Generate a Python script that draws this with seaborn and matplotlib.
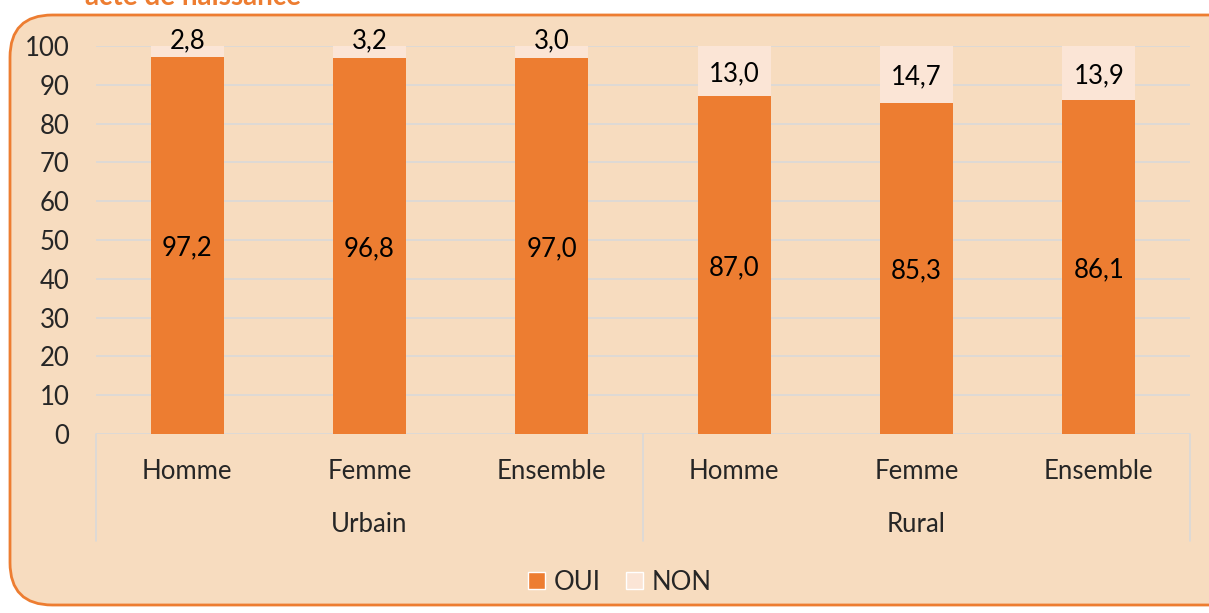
import matplotlib
matplotlib.use("Agg")
import matplotlib.pyplot as plt
from matplotlib.patches import FancyBboxPatch, Patch
import matplotlib.transforms as mtransforms
import seaborn as sns
import pandas as pd

# Data
milieux = ["Urbain", "Urbain", "Urbain", "Rural", "Rural", "Rural"]
sexes = ["Homme", "Femme", "Ensemble", "Homme", "Femme", "Ensemble"]
oui = [97.2, 96.8, 97.0, 87.0, 85.3, 86.1]
non = [2.8, 3.2, 3.0, 13.0, 14.7, 13.9]
groupes = ["Urbain", "Rural"]
yticks = list(range(0, 101, 10))

OUI_COLOR = "#ED7D31"
NON_COLOR = "#FBE5D6"
BG = "#F7DCBF"
GRID = "#D9D9D9"
FS = 18.5

sns.set_theme(style="white")
plt.rcParams["font.family"] = ["Lato", "DejaVu Sans"]

df = pd.DataFrame({
    "milieu": milieux,
    "sexe": sexes,
    "oui": oui,
    "non": non,
})
df["cle"] = df["milieu"] + "-" + df["sexe"]
df["total"] = df["oui"] + df["non"]

W, H = 1209, 613
fig = plt.figure(figsize=(W / 100, H / 100), dpi=100)
fig.patch.set_facecolor("white")

# Rounded panel behind the chart
panel = FancyBboxPatch((10 / W, 8 / H), 1.2, (H - 23) / H,
                       boxstyle="round,pad=0,rounding_size=0.035",
                       transform=fig.transFigure, facecolor=BG,
                       edgecolor=OUI_COLOR, linewidth=2, zorder=-5,
                       mutation_aspect=W / H)
fig.patches.append(panel)

fig.text(85 / W, 1 - 5 / H, "acte de naissance", color=OUI_COLOR,
         fontsize=20, fontweight="bold", va="baseline", ha="left")

ax = fig.add_axes([96 / W, 1 - 434 / H, (1190 - 96) / W, (434 - 46) / H])
ax.set_facecolor("none")
ax.set_zorder(2)

sns.barplot(data=df, x="cle", y="total", color=NON_COLOR, saturation=1,
            width=0.4, ax=ax, zorder=2, linewidth=0)
sns.barplot(data=df, x="cle", y="oui", color=OUI_COLOR, saturation=1,
            width=0.4, ax=ax, zorder=3, linewidth=0)

ax.set_xlim(-0.5, len(df) - 0.5)
ax.set_ylim(0, 100)
ax.set_yticks(yticks)
ax.set_yticklabels([str(t) for t in yticks], fontsize=FS)
ax.yaxis.grid(True, color=GRID, linewidth=1.2, zorder=0)
ax.set_axisbelow(True)
for s in ax.spines.values():
    s.set_visible(False)
ax.tick_params(axis="y", length=0, pad=19)
ax.tick_params(axis="x", length=0, pad=18)
ax.set_xticks(range(len(df)))
ax.set_xticklabels(sexes, fontsize=FS)
ax.set_xlabel("")
ax.set_ylabel("")

# Value labels centred in each segment (thin segments get their label lifted)
for i, (o, n) in enumerate(zip(oui, non)):
    ax.annotate(f"{o:.1f}".replace(".", ","), (i, o / 2), xytext=(0, -2),
                textcoords="offset points", ha="center", va="center",
                fontsize=FS, color="black", zorder=4)
    if n < 5:
        pos, dy = o + n, 4
    else:
        pos, dy = o + n / 2, -2
    ax.annotate(f"{n:.1f}".replace(".", ","), (i, pos), xytext=(0, dy),
                textcoords="offset points", ha="center", va="center",
                fontsize=FS, color="black", zorder=4)

# Group labels and separators
trans = mtransforms.blended_transform_factory(ax.transData, ax.transAxes)
sep_bottom = (434 - 541) / (434 - 46)
for x in [-0.5, 2.5, 5.5]:
    ax.plot([x, x], [0, sep_bottom], transform=trans, color=GRID,
            linewidth=1.2, clip_on=False)
for k, g in enumerate(groupes):
    ax.text(1 + 3 * k, (434 - 525) / (434 - 46), g, transform=trans,
            ha="center", va="center", fontsize=FS, clip_on=False)

handles = [Patch(facecolor=OUI_COLOR, label="OUI"),
           Patch(facecolor=NON_COLOR, label="NON")]
fig.legend(handles=handles, loc="center", bbox_to_anchor=(620 / W, 1 - 582 / H),
           ncol=2, frameon=False, fontsize=FS, handlelength=0.65,
           handleheight=0.65, handletextpad=0.35, columnspacing=1.0)

fig.savefig("out.png", dpi=100, facecolor="white")
